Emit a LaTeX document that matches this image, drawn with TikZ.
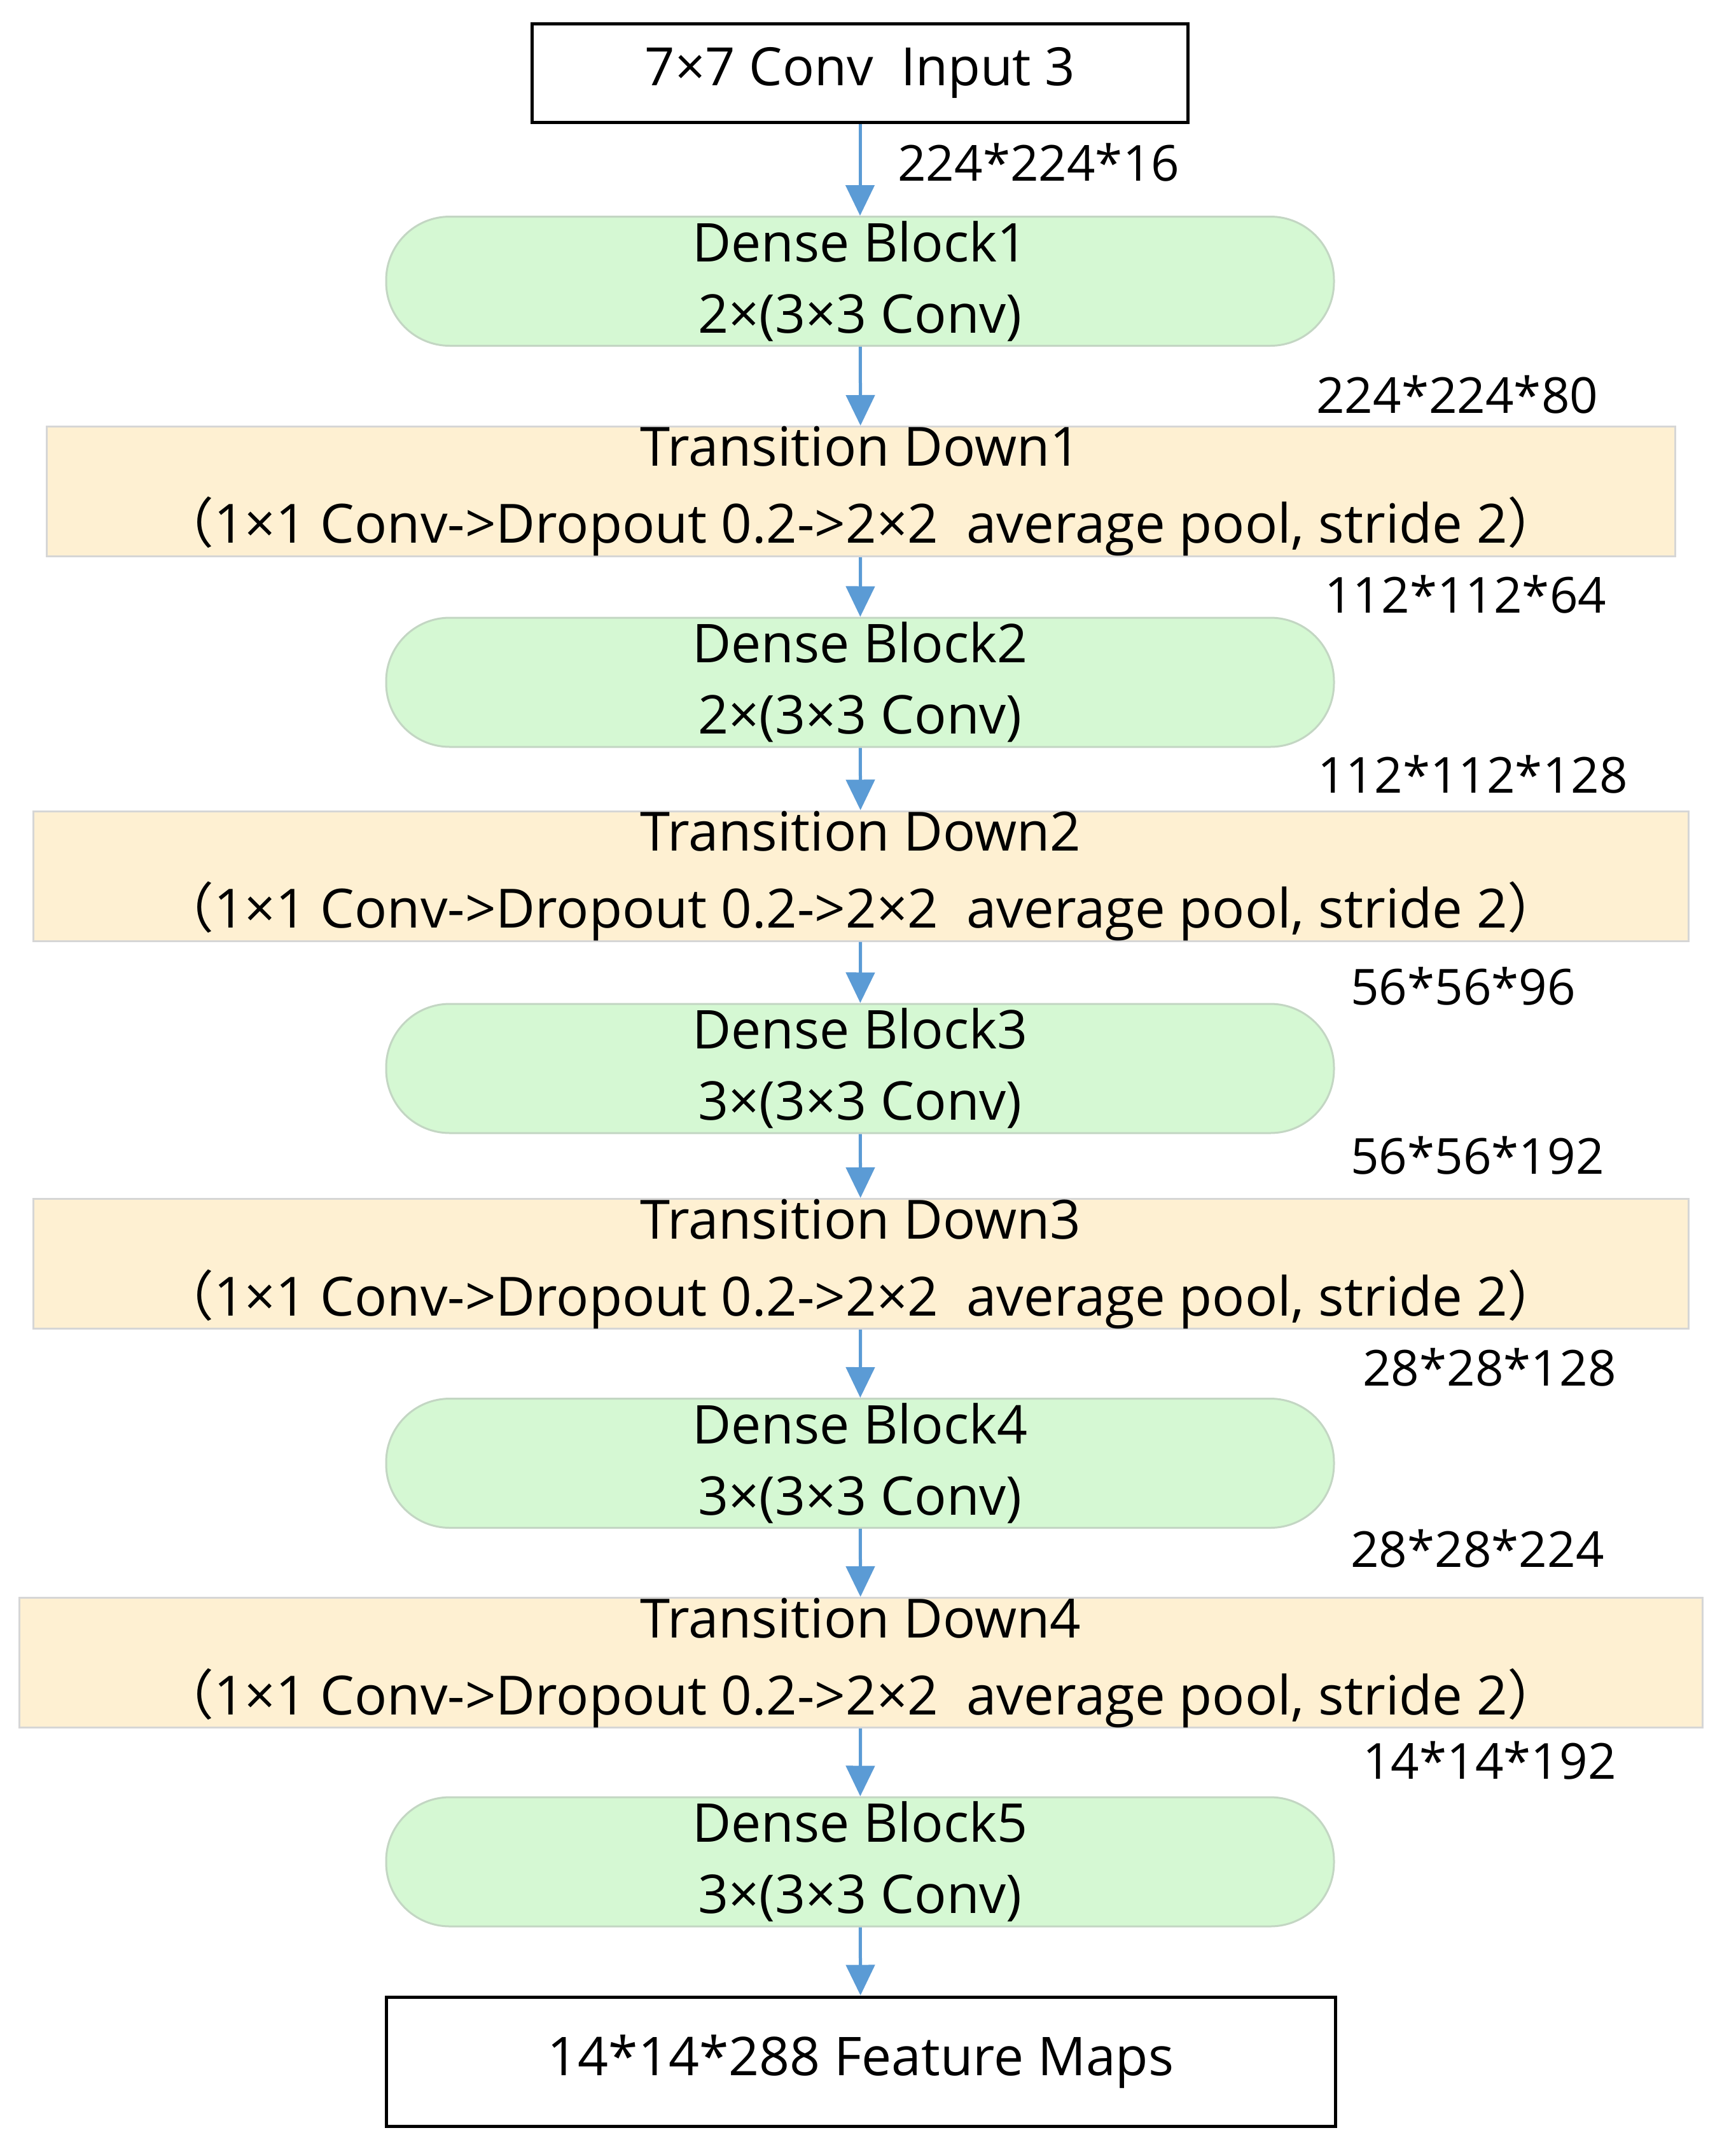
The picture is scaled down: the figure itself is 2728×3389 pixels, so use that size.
\documentclass[tikz,border=0pt]{standalone}
\usepackage{fontspec}
\setmainfont{Open Sans}
\newfontfamily\cjk{Noto Sans CJK SC}
\usetikzlibrary{arrows.meta}
\definecolor{arrowblue}{HTML}{5B9BD5}
\definecolor{dbfill}{HTML}{D5F8D3}
\definecolor{dbline}{HTML}{C3D6C3}
\definecolor{tdfill}{HTML}{FEF0D2}
\definecolor{tdline}{HTML}{D6D6D6}
\newcommand{\lp}{{\cjk （}}
\newcommand{\rp}{{\cjk ）}}
\tikzset{
  blackbox/.style={draw=black, line width=5pt, fill=white, minimum width=1031pt, minimum height=155pt, font=\fontsize{83}{104}\selectfont, inner sep=0pt},
  outbox/.style={draw=black, line width=5pt, fill=white, minimum width=1492pt, minimum height=203pt, font=\fontsize{84}{105}\selectfont, inner sep=0pt},
  denseblock/.style={draw=dbline, line width=3pt, fill=dbfill, rounded corners=100pt, minimum width=1490pt, minimum height=203pt, align=center, font=\fontsize{84}{112}\selectfont, inner sep=0pt},
  transbox/.style={draw=tdline, line width=3pt, fill=tdfill, minimum height=204pt, align=center, font=\fontsize{85}{121}\selectfont, inner sep=0pt},
  dimlabel/.style={anchor=west, font=\fontsize{78}{94}\selectfont, inner sep=0pt},
  arr/.style={draw=arrowblue, line width=5pt, -{Triangle[width=45pt,length=48pt]}},
}
\begin{document}
\begin{tikzpicture}[x=1pt,y=-1pt]
\useasboundingbox[fill=white] (0,0) rectangle (2728,3389);
\node[blackbox] (in) at (1352,114.5) {7×7 Conv\ \ Input 3};
\node[denseblock] (db1) at (1352,442) {Dense Block1\\2×(3×3 Conv)};
\node[transbox, minimum width=2560pt] (td1) at (1353,772.5) {Transition Down1\\\lp 1×1 Conv->Dropout 0.2->2×2\ \ average pool, stride 2\rp};
\node[denseblock] (db2) at (1352,1072.5) {Dense Block2\\2×(3×3 Conv)};
\node[transbox, minimum width=2602pt] (td2) at (1353,1377) {Transition Down2\\\lp 1×1 Conv->Dropout 0.2->2×2\ \ average pool, stride 2\rp};
\node[denseblock] (db3) at (1352,1679.5) {Dense Block3\\3×(3×3 Conv)};
\node[transbox, minimum width=2602pt] (td3) at (1353,1986.5) {Transition Down3\\\lp 1×1 Conv->Dropout 0.2->2×2\ \ average pool, stride 2\rp};
\node[denseblock] (db4) at (1352,2300) {Dense Block4\\3×(3×3 Conv)};
\node[transbox, minimum width=2646pt] (td4) at (1353,2613.5) {Transition Down4\\\lp 1×1 Conv->Dropout 0.2->2×2\ \ average pool, stride 2\rp};
\node[denseblock] (db5) at (1352,2926.5) {Dense Block5\\3×(3×3 Conv)};
\node[outbox] (out) at (1353,3240.5) {14*14*288 Feature Maps};

\draw[arr] (in) -- (db1);
\draw[arr] (db1) -- (td1);
\draw[arr] (td1) -- (db2);
\draw[arr] (db2) -- (td2);
\draw[arr] (td2) -- (db3);
\draw[arr] (db3) -- (td3);
\draw[arr] (td3) -- (db4);
\draw[arr] (db4) -- (td4);
\draw[arr] (td4) -- (db5);
\draw[arr] (db5) -- (out);

\node[dimlabel] (l1) at (1411,255) {224*224*16};
\node[dimlabel] (l2) at (2069,620) {224*224*80};
\node[dimlabel] (l3) at (2082,934) {112*112*64};
\node[dimlabel] (l4) at (2071,1217) {112*112*128};
\node[dimlabel] (l5) at (2123,1550) {56*56*96};
\node[dimlabel] (l6) at (2123,1816) {56*56*192};
\node[dimlabel] (l7) at (2142,2149) {28*28*128};
\node[dimlabel] (l8) at (2123,2434) {28*28*224};
\node[dimlabel] (l9) at (2142,2767) {14*14*192};
\end{tikzpicture}
\end{document}
